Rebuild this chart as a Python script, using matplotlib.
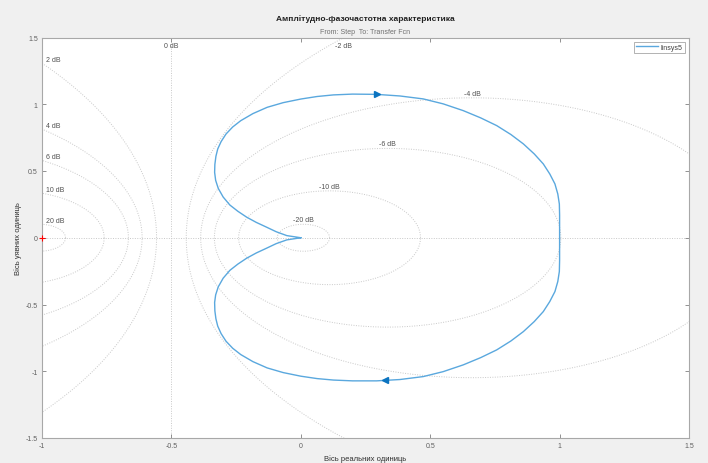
import numpy as np
import matplotlib
matplotlib.use("Agg")
import matplotlib.pyplot as plt

plt.rcParams['font.family'] = ['Liberation Sans', 'DejaVu Sans']

# ---- data ----
title = "Амплітудно-фазочастотна характеристика"
subtitle = "From: Step  To: Transfer Fcn"
xlabel = "Вісь реальних одиниць"
ylabel = "Вісь уявних одиниць"
series_name = "linsys5"

# upper branch (negative frequencies), from origin cusp to (1, 0)
re_upper = [0.0, -0.054, -0.095, -0.132, -0.172, -0.209, -0.243, -0.274, -0.300, -0.319,
            -0.329, -0.333, -0.332, -0.328, -0.321, -0.308, -0.289, -0.263, -0.232, -0.185,
            -0.130, -0.068, 0.0, 0.063, 0.126, 0.20, 0.293, 0.383, 0.473, 0.55,
            0.628, 0.695, 0.757, 0.812, 0.860, 0.902, 0.937, 0.962, 0.982, 0.993,
            0.999, 1.0, 1.0, 1.0]
im_upper = [0.0, 0.016, 0.045, 0.079, 0.115, 0.154, 0.198, 0.245, 0.305, 0.370,
            0.430, 0.490, 0.550, 0.610, 0.665, 0.720, 0.777, 0.830, 0.877, 0.930,
            0.977, 1.012, 1.039, 1.058, 1.070, 1.076, 1.074, 1.062, 1.040, 1.003,
            0.952, 0.898, 0.840, 0.773, 0.703, 0.628, 0.553, 0.478, 0.403, 0.328,
            0.253, 0.170, 0.085, 0.0]
# lower branch (positive frequencies), from (1, 0) back to origin cusp
re_lower = [1.0, 1.0, 1.0, 0.999, 0.993, 0.982, 0.962, 0.937, 0.902, 0.860,
            0.812, 0.757, 0.695, 0.628, 0.55, 0.473, 0.383, 0.293, 0.20, 0.126,
            0.063, 0.0, -0.068, -0.130, -0.185, -0.232, -0.263, -0.289, -0.308, -0.321,
            -0.328, -0.332, -0.333, -0.329, -0.319, -0.300, -0.274, -0.243, -0.209, -0.172,
            -0.132, -0.095, -0.054, 0.0]
im_lower = [0.0, -0.085, -0.170, -0.253, -0.328, -0.403, -0.478, -0.553, -0.628, -0.703,
            -0.773, -0.840, -0.898, -0.952, -1.003, -1.040, -1.062, -1.072, -1.072, -1.066,
            -1.055, -1.037, -1.010, -0.975, -0.928, -0.875, -0.828, -0.775, -0.718, -0.662,
            -0.607, -0.548, -0.485, -0.428, -0.368, -0.303, -0.244, -0.197, -0.153, -0.114,
            -0.078, -0.044, -0.016, 0.0]

# arrow positions on the curve
arrow_upper = (0.293, 1.074)
arrow_lower = (0.325, -1.069)

# constant-gain (M) circles, dB
m_db = [-20, -10, -6, -4, -2, 0, 2, 4, 6, 10, 20]

xlim = (-1, 1.5)
ylim = (-1.5, 1.5)
xticks = [-1, -0.5, 0, 0.5, 1, 1.5]
yticks = [-1.5, -1, -0.5, 0, 0.5, 1, 1.5]
xticklabels = ["-1", "-0.5", "0", "0.5", "1", "1.5"]
yticklabels = ["-1.5", "-1", "-0.5", "0", "0.5", "1", "1.5"]

# ---- figure ----
fig = plt.figure(figsize=(7.08, 4.64), dpi=100, facecolor='#f0f0f0')
ax = fig.add_axes([42 / 708, 1 - 439 / 464, (689 - 42) / 708, (439 - 38.5) / 464])
ax.set_facecolor('white')
ax.set_xlim(*xlim)
ax.set_ylim(*ylim)

grid_col = '#c8c8c8'
label_col = '#505050'
gkw = dict(color=grid_col, lw=0.7, ls=(0, (1, 1.5)), zorder=1)
t = np.linspace(0, 2 * np.pi, 720)
for db in m_db:
    if db == 0:
        ax.axvline(-0.5, **gkw)
        ax.text(-0.5, 1.47, "0 dB", ha='center', va='top', fontsize=5, color=label_col)
        continue
    M = 10 ** (db / 20)
    c = -M ** 2 / (M ** 2 - 1)
    r = abs(M / (M ** 2 - 1))
    ax.plot(c + r * np.cos(t), r * np.sin(t), **gkw)
    if db > 0:
        yi = np.sqrt(max(r ** 2 - (xlim[0] - c) ** 2, 0))
        ax.text(xlim[0] + 0.014, yi + 0.005, f"{db} dB", ha='left', va='bottom',
                fontsize=5, color=label_col)
    else:
        if r < ylim[1]:
            ax.text(c, r + 0.008, f"{db} dB", ha='center', va='bottom',
                    fontsize=5, color=label_col)
        else:
            xi = c - np.sqrt(r ** 2 - ylim[1] ** 2)
            ax.text(xi, 1.47, f"{db} dB", ha='center', va='top',
                    fontsize=5, color=label_col)
ax.axhline(0, **gkw)

line_col = '#5aa8de'
ax.plot(re_upper + re_lower[1:], im_upper + im_lower[1:], color=line_col, lw=1.0,
        zorder=3, label=series_name, solid_joinstyle='round')
ax.plot([arrow_upper[0]], [arrow_upper[1]], marker='>', ms=4.5, color='#0b74c0',
        mec='#0b74c0', zorder=4)
ax.plot([arrow_lower[0]], [arrow_lower[1]], marker='<', ms=4.5, color='#0b74c0',
        mec='#0b74c0', zorder=4)
ax.plot([-1], [0], marker='+', ms=5, color='red', mew=0.8, zorder=5, clip_on=False)

ax.set_xticks(xticks)
ax.set_xticklabels(xticklabels)
ax.set_yticks(yticks)
ax.set_yticklabels(yticklabels)
ax.tick_params(direction='in', length=3, width=0.6, colors='#808080', labelsize=5,
               labelcolor='#606060', top=True, right=True, pad=3)
for s in ax.spines.values():
    s.set_color('#a8a8a8')
    s.set_linewidth(0.8)

fig.text(0.5 * (42 + 689) / 708, 1 - 19 / 464, title, ha='center', va='center',
         fontsize=6, fontweight='bold', color='#222222')
fig.text(0.5 * (42 + 689) / 708, 1 - 32 / 464, subtitle, ha='center', va='center',
         fontsize=5, color='#707070')
fig.text(0.5 * (42 + 689) / 708, 1 - 459 / 464, xlabel, ha='center', va='center',
         fontsize=5.5, color='#303030')
fig.text(18 / 708, 1 - 238.8 / 464, ylabel, ha='center', va='center', rotation=90,
         fontsize=5.5, color='#303030')

leg = ax.legend(loc='upper right', fontsize=5, frameon=True, fancybox=False,
                handlelength=3.2, borderpad=0.3, handletextpad=0.4,
                borderaxespad=0.6, labelcolor='#404040')
leg.get_frame().set_edgecolor('#909090')
leg.get_frame().set_linewidth(0.6)

fig.savefig('out.png', dpi=100, facecolor=fig.get_facecolor())
